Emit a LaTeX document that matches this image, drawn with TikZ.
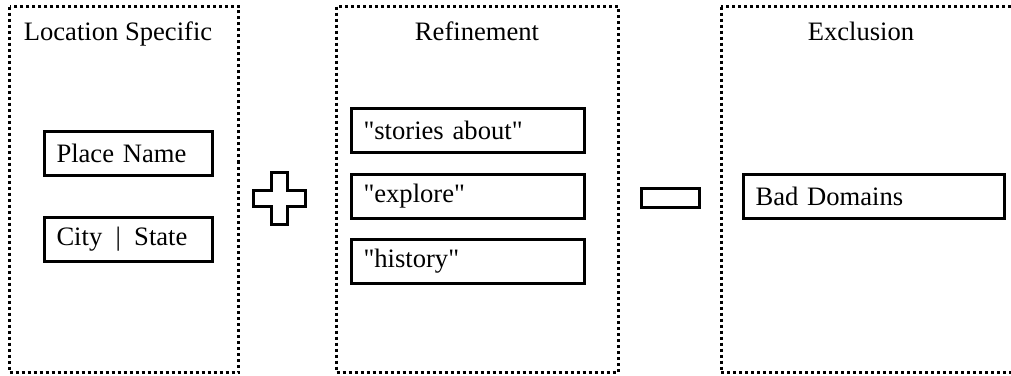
\documentclass[tikz,border=0pt]{standalone}
\usepackage{fontspec}
\setmainfont{Liberation Serif}
\newfontfamily\plainfont{Liberation Serif} % no TeX ligatures, keeps " straight
\usetikzlibrary{positioning}
\newcommand{\sq}{{\plainfont"}} % straight double quote

\begin{document}
\begin{tikzpicture}[
    x=0.5pt, y=-0.5pt,
    frame/.style={line width=1.5pt, dash pattern=on 1.5pt off 1.5pt}, % Style for the dotted panels
    title/.style={anchor=base, font=\fontsize{13.3}{16}\selectfont}, % Style for the panel titles
    term/.style={draw, line width=1.5pt, minimum height=22pt, inner xsep=6pt,
        align=left, font=\fontsize{13.3}{16}\selectfont}, % Style for the query terms
    sign/.style={draw, line width=1.5pt} % Style for the plus and minus signs
]
\useasboundingbox (0,0) rectangle (1011,375);

% Panels
\draw[frame] (9.5,6.5) rectangle (238.5,372.5); % location
\draw[frame] (336.5,6.5) rectangle (618,372.5); % refinement
\draw[frame] (721,6.5) rectangle (1016,372.5); % exclusion

% Titles
\node[title] (loctitle) at (118,40) {Location Specific};
\node[title] (reftitle) at (477,40) {Refinement};
\node[title] (exctitle) at (861,40) {Exclusion};

% Location terms
\node[term, text width=72pt] (place) at (128.5,153.5) {Place Name};
\node[term, text width=72pt] (city) at (128.5,239) {City \,|\, State};

% Refinement terms
\node[term, text width=104.5pt] (stories) at (468,130) {\sq stories about\sq};
\node[term, text width=104.5pt] (explore) at (468,196) {\sq explore\sq};
\node[term, text width=104.5pt] (history) at (468,261) {\sq history\sq};

% Exclusion terms
\node[term, text width=118.5pt] (bad) at (874,196.5) {Bad Domains};

% --- Signs ---

% Plus
\draw[sign] (271,172) -- (287,172) -- (287,190) -- (305,190) -- (305,206) -- (287,206)
    -- (287,224) -- (271,224) -- (271,206) -- (253,206) -- (253,190) -- (271,190) -- cycle;

% Minus
\node[sign, minimum width=29pt, minimum height=9.5pt, inner sep=0pt] (minus) at (670.5,198) {};

\end{tikzpicture}
\end{document}
